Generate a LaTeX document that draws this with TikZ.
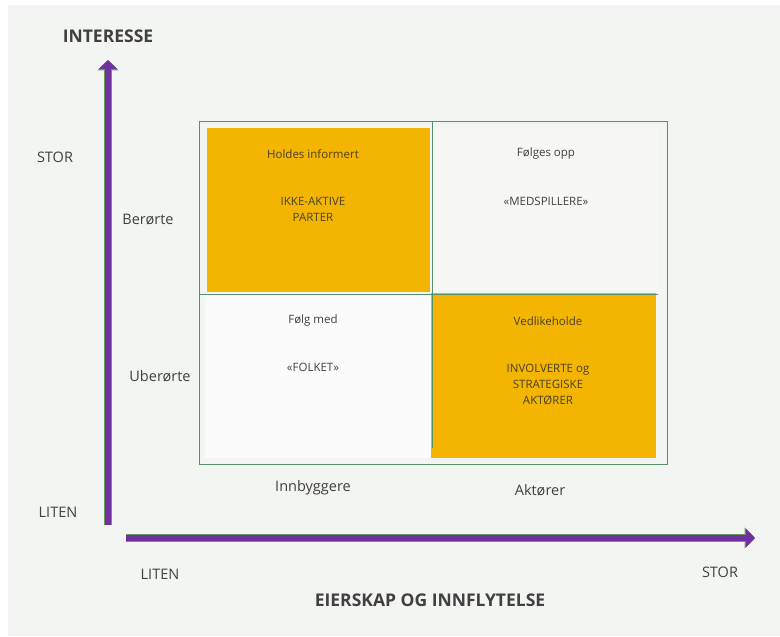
\documentclass[tikz,border=0pt]{standalone}
\usepackage{fontspec}
\setmainfont{Open Sans}
\usetikzlibrary{arrows.meta}
\definecolor{bggray}{HTML}{F3F5F2}
\definecolor{orangefill}{HTML}{F3B500}
\definecolor{gridgreen}{HTML}{5A9068}
\definecolor{axispurple}{HTML}{7030A0}
\definecolor{edgegreen}{HTML}{6A9A58}
\definecolor{txtgray}{HTML}{404040}
\definecolor{txtdark}{HTML}{4A4028}
\tikzset{
  quadtxt/.style={font=\fontsize{11.5bp}{16bp}\selectfont, text=txtgray, align=center, inner sep=0pt},
  orangetxt/.style={quadtxt, text=txtdark},
  axlabel/.style={font=\fontsize{14.5bp}{17bp}\selectfont, text=txtgray, inner sep=0pt},
  axtitle/.style={font=\bfseries\fontsize{17.5bp}{20bp}\selectfont, text=txtgray, inner sep=0pt},
  gridline/.style={draw=gridgreen, line width=1bp},
  axisarrow/.style={line width=6.5bp, draw=axispurple, -{Triangle[width=18bp,length=9bp]},
    preaction={draw=edgegreen, line width=8bp, -{Triangle[width=20.5bp,length=10.5bp]}}},
}
\begin{document}
\begin{tikzpicture}[x=1bp,y=-1bp]
\useasboundingbox (0,0) rectangle (780,637);
\fill[white] (0,0) rectangle (780,637);
\fill[bggray] (8,5) rectangle (780,636);

% quadrant fills
\fill[orangefill] (207,128) rectangle (430,292);
\fill[orangefill] (431,293) rectangle (656,458);
\fill[white!60!bggray] (205,296) rectangle (431,458);
\fill[white!30!bggray] (433,128) rectangle (657,291);

% grid
\coordinate (gtl) at (199,122);
\coordinate (gbr) at (667,464);
\coordinate (vtop) at (432,122);
\coordinate (vbot) at (432,448);
\coordinate (hl) at (199,294);
\coordinate (hr) at (658,294);
\draw[gridline] (gtl) rectangle (gbr);
\draw[gridline] (vtop) -- (vbot);
\draw[gridline] (hl) -- (hr);

% quadrant texts
\node[orangetxt] (q1a) at (313,154) {Holdes informert};
\node[orangetxt] (q1b) at (313,209) {IKKE-AKTIVE\\PARTER};
\node[quadtxt] (q2a) at (546,154) {Følges opp};
\node[quadtxt] (q2b) at (546,201) {«MEDSPILLERE»};
\node[quadtxt] (q3a) at (313,321) {Følg med};
\node[quadtxt] (q3b) at (313,367) {«FOLKET»};
\node[orangetxt] (q4a) at (548,321) {Vedlikeholde};
\node[orangetxt] (q4b) at (548,384) {INVOLVERTE og\\STRATEGISKE\\AKTØRER};

% axes
\coordinate (ystart) at (108,525);
\coordinate (yend) at (108,60);
\coordinate (xstart) at (126,538);
\coordinate (xend) at (755,538);
\draw[axisarrow] (ystart) -- (yend);
\draw[axisarrow] (xstart) -- (xend);

% axis labels
\node[axtitle] (ytitle) at (108,36) {INTERESSE};
\node[axtitle] (xtitle) at (430,600) {EIERSKAP OG INNFLYTELSE};
\node[axlabel] (ystor) at (55,157) {STOR};
\node[axlabel] (yliten) at (58,512) {LITEN};
\node[axlabel] (berorte) at (148,220) {Berørte};
\node[axlabel] (uberorte) at (160,376) {Uberørte};
\node[axlabel] (xliten) at (160,574) {LITEN};
\node[axlabel] (xstor) at (720,572) {STOR};
\node[axlabel] (innb) at (313,488) {Innbyggere};
\node[axlabel] (aktor) at (540,490) {Aktører};
\end{tikzpicture}
\end{document}
